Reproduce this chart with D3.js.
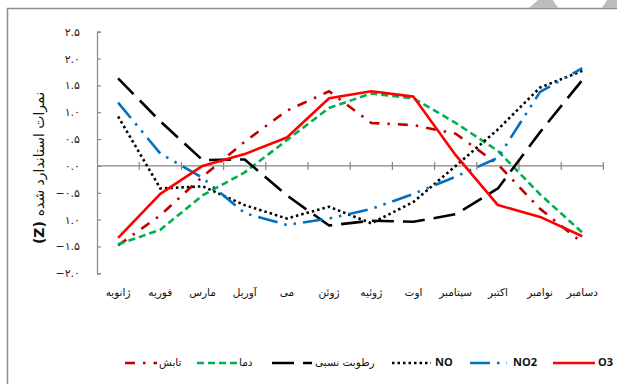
<html>
<head>
<script src="https://d3js.org/d3.v7.min.js"></script>
<style>
  body { margin: 0; background: #fff; }
  .fa { font-family: "DejaVu Sans", sans-serif; }
</style>
</head>
<body>
<svg id="chart" width="617" height="384"></svg>
<script>
// months (left to right)
const months = ["ژانویه", "فوریه", "مارس", "آوریل", "می", "ژوئن", "ژوئیه", "اوت", "سپتامبر", "اکتبر", "نوامبر", "دسامبر"];

// standardised scores
const radiation = [-1.48, -0.92, -0.2, 0.45, 1.03, 1.39, 0.8, 0.76, 0.6, 0.03, -0.8, -1.43];
const temperature = [-1.46, -1.19, -0.55, -0.12, 0.48, 1.08, 1.35, 1.26, 0.8, 0.28, -0.53, -1.24];
const humidity = [1.63, 0.83, 0.11, 0.12, -0.55, -1.11, -1.02, -1.04, -0.9, -0.42, 0.63, 1.6];
const no = [0.92, -0.42, -0.38, -0.73, -0.98, -0.76, -1.07, -0.67, 0.0, 0.68, 1.46, 1.77];
const no2 = [1.18, 0.23, -0.22, -0.88, -1.1, -0.98, -0.8, -0.52, -0.2, 0.15, 1.38, 1.82];
const o3 = [-1.34, -0.52, 0.0, 0.22, 0.53, 1.26, 1.39, 1.29, 0.2, -0.73, -0.95, -1.31];

const yTicks = [-2, -1.5, -1, -0.5, 0, 0.5, 1, 1.5, 2, 2.5];
const yTickLabels = ["−۲.۰", "−۱.۵", "۱.۰", "−۰.۵", "۰.۰", "۰.۵", "۱.۰", "۱.۵", "۲.۰", "۲.۵"];

const series = [
  { name: "تابش", values: radiation, color: "#c00000", dash: "10,8,2.5,8", fa: true },
  { name: "دما", values: temperature, color: "#00b050", dash: "7,4", fa: true },
  { name: "رطوبت نسبی", values: humidity, color: "#000000", dash: "22,9", fa: true },
  { name: "NO", values: no, color: "#000000", dash: "2.5,3", fa: false },
  { name: "NO2", values: no2, color: "#0070c0", dash: "20,7,2.5,7,2.5,7", fa: false },
  { name: "O3", values: o3, color: "#ff0000", dash: null, fa: false }
];

const svg = d3.select("#chart");

// outer frame
svg.append("rect")
  .attr("x", 7.5).attr("y", 8.5)
  .attr("width", 700).attr("height", 500)
  .attr("fill", "none").attr("stroke", "#8c8c8c").attr("stroke-width", 1.5);
svg.append("path").attr("d", "M529,8L538,0L553,0L558,8Z").attr("fill", "#bdbdbd");
svg.append("path").attr("d", "M602,8L607,0L617,0L617,8Z").attr("fill", "#bdbdbd");

const x = d3.scaleBand().domain(months).range([97, 603.4]);
const y = d3.scaleLinear().domain([-2, 2.5]).range([273.3, 31.7]);
const cx = m => x(m) + x.bandwidth() / 2;

// y axis
const yAxis = d3.axisLeft(y)
  .tickValues(yTicks)
  .tickSize(-4)
  .tickPadding(17)
  .tickFormat((d, i) => yTickLabels[i]);

const gy = svg.append("g").attr("transform", "translate(97,0)").call(yAxis);
gy.select(".domain").attr("stroke", "#868686").attr("stroke-width", 1.2);
gy.selectAll(".tick line").attr("stroke", "#868686").attr("stroke-width", 1.2);
gy.selectAll(".tick text")
  .attr("class", "fa")
  .attr("font-size", 11)
  .attr("fill", "#222");

// category axis along zero
const zeroY = y(0);
svg.append("line")
  .attr("x1", 97).attr("x2", 603.4)
  .attr("y1", zeroY).attr("y2", zeroY)
  .attr("stroke", "#868686").attr("stroke-width", 1.2);
svg.selectAll("line.xtick")
  .data(d3.range(1, months.length + 1))
  .join("line")
  .attr("class", "xtick")
  .attr("x1", i => 97 + i * x.step()).attr("x2", i => 97 + i * x.step())
  .attr("y1", zeroY - 4).attr("y2", zeroY + 4)
  .attr("stroke", "#868686").attr("stroke-width", 1.2);

svg.selectAll("text.month")
  .data(months)
  .join("text")
  .attr("class", "fa month")
  .attr("x", cx)
  .attr("y", 293)
  .attr("text-anchor", "middle")
  .attr("dominant-baseline", "middle")
  .attr("font-size", 10.5)
  .attr("fill", "#111")
  .text(d => d);

// y axis title
const title = svg.append("text")
  .attr("class", "fa")
  .attr("transform", "translate(40,168) rotate(-90)")
  .attr("text-anchor", "middle")
  .attr("dominant-baseline", "middle")
  .attr("font-size", 14)
  .attr("fill", "#111");
title.append("tspan").attr("font-weight", "bold").text("(Z) ");
title.append("tspan").text("نمرات استاندارد شده");

// lines
const line = d3.line()
  .x((d, i) => cx(months[i]))
  .y(d => y(d));

svg.selectAll("path.series")
  .data(series)
  .join("path")
  .attr("class", "series")
  .attr("d", d => line(d.values))
  .attr("fill", "none")
  .attr("stroke", d => d.color)
  .attr("stroke-width", 2.6)
  .attr("stroke-dasharray", d => d.dash)
  .attr("stroke-linejoin", "round");

// legend
const legendY = 363;
const legendPos = [
  { x0: 125, x1: 157, tx: 159 },
  { x0: 197, x1: 237, tx: 239 },
  { x0: 272, x1: 312, tx: 315 },
  { x0: 392, x1: 431, tx: 435 },
  { x0: 470, x1: 507, tx: 513 },
  { x0: 553, x1: 595, tx: 598 }
];
const lg = svg.append("g");
series.forEach((s, i) => {
  const p = legendPos[i];
  lg.append("line")
    .attr("x1", p.x0).attr("x2", p.x1)
    .attr("y1", legendY).attr("y2", legendY)
    .attr("stroke", s.color)
    .attr("stroke-width", 2.6)
    .attr("stroke-dasharray", s.dash);
  lg.append("text")
    .attr("class", s.fa ? "fa" : null)
    .attr("x", p.tx).attr("y", legendY)
    .attr("text-anchor", "start")
    .attr("dominant-baseline", "middle")
    .attr("font-size", s.fa ? 10.5 : 11)
    .attr("font-family", s.fa ? null : "'Open Sans', sans-serif")
    .attr("font-weight", s.fa ? null : "bold")
    .attr("fill", "#111")
    .text(s.name);
});
</script>
</body>
</html>
